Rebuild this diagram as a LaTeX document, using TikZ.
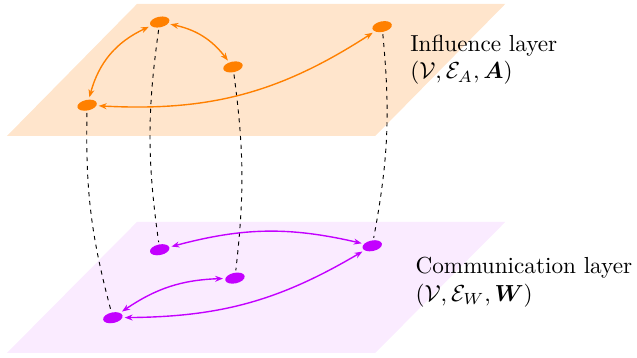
\documentclass[tikz,border=0pt]{standalone}
\usepackage{amsmath}
\usepackage{xcolor}
\usepackage{tikz}
\usetikzlibrary{arrows.meta,shapes.geometric}
\definecolor{inflorange}{RGB}{255,128,0}
\definecolor{commviolet}{RGB}{195,0,255}
\tikzset{
  agent/.style={ellipse,minimum width=3mm,minimum height=1.6mm,inner sep=0pt,
    outer sep=1pt,rotate=12},
  inflnode/.style={agent,fill=inflorange},
  commnode/.style={agent,fill=commviolet},
  inflarc/.style={{Stealth[length=1.2mm]}-{Stealth[length=1.2mm]},semithick,inflorange},
  commarc/.style={{Stealth[length=1.2mm]}-{Stealth[length=1.2mm]},semithick,commviolet},
  linkarc/.style={thin,black,dash pattern=on 1.8pt off 2pt},
  layerlabel/.style={align=left,anchor=west,inner sep=0pt}
}

\begin{document}
\begin{tikzpicture}[x=1cm,y=1cm]
  \useasboundingbox (0,0) rectangle (9.652,5.424);
  % layers
  \fill[inflorange!20] (0.106,3.364) -- ++(5.58,0) -- ++(1.97,2) -- ++(-5.58,0) -- cycle;
  \fill[commviolet!8] (0.106,0.076) -- ++(5.58,0) -- ++(1.97,1.985) -- ++(-5.58,0) -- cycle;
  % influence layer
  \node[inflnode] (a1) at (2.42,5.09) {};
  \node[inflnode] (a2) at (3.53,4.41) {};
  \node[inflnode] (a3) at (1.32,3.83) {};
  \node[inflnode] (a4) at (5.79,5.02) {};
  % communication layer
  \node[commnode] (b1) at (2.42,1.64) {};
  \node[commnode] (b2) at (3.56,1.21) {};
  \node[commnode] (b3) at (1.71,0.61) {};
  \node[commnode] (b4) at (5.64,1.70) {};
  \node[layerlabel] (inflabel) at (6.21,4.52) {Influence layer\\$(\mathcal{V},\mathcal{E}_A,\boldsymbol{A})$};
  \node[layerlabel] (commlabel) at (6.29,1.15) {Communication layer\\$(\mathcal{V},\mathcal{E}_W,\boldsymbol{W})$};
  \draw[linkarc] (a1) to[bend right=8] (b1);
  \draw[linkarc] (a2) to[bend left=7] (b2);
  \draw[linkarc] (a3) to[bend right=8] (b3);
  \draw[linkarc] (a4) to[bend left=8] (b4);
  \draw[inflarc] (a1) to[bend left=20] (a2);
  \draw[inflarc] (a1) to[bend right=25] (a3);
  \draw[inflarc] (a3) to[bend right=18] (a4);
  \draw[commarc] (b1) to[bend left=14] (b4);
  \draw[commarc] (b3) to[bend left=16] (b2);
  \draw[commarc] (b3) to[bend right=15] (b4);
\end{tikzpicture}
\end{document}
